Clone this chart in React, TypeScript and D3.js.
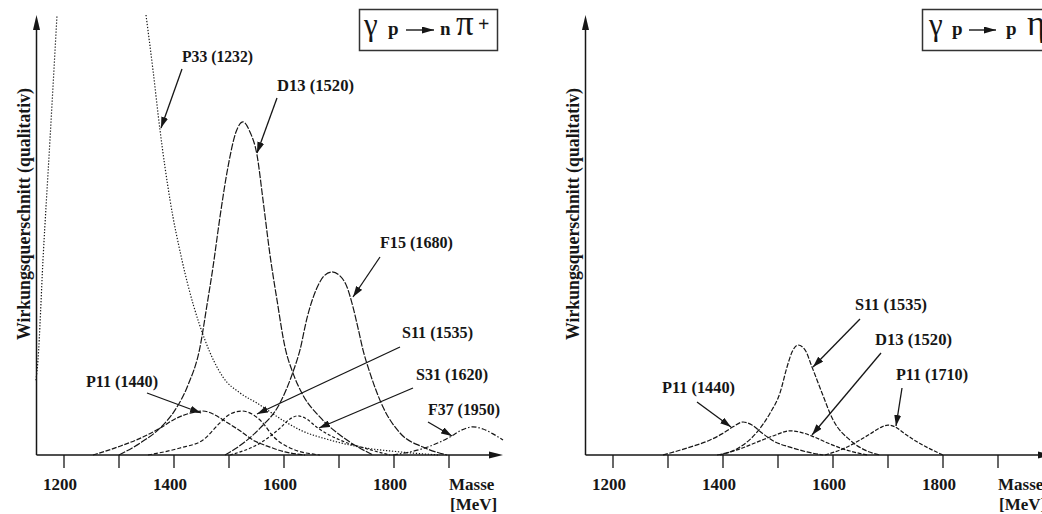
import React from 'react';
import * as d3 from 'd3';

type Pt = [number, number];

// ---------- axis data ----------
const massTicks = [1200, 1300, 1400, 1500, 1600, 1700, 1800, 1900];
const massTickLabels = ['1200', '', '1400', '', '1600', '', '1800', ''];
const massTitle = 'Masse';
const unitLabel = '[MeV]';
const yAxisLabel = 'Wirkungsquerschnitt (qualitativ)';

// ---------- left panel: γ p → n π+  [mass (MeV), relative cross section] ----------
const p33LowBranch: Pt[] = [[1149, 17.0], [1152.7, 21.6], [1161.8, 44.3], [1174.5, 71.6], [1187.3, 100]];
const p33HighBranch: Pt[] = [[1349.1, 100], [1361.8, 87.5], [1374.5, 73.9], [1392.7, 58.0], [1414.5, 44.3], [1456.4, 26.1], [1489.1, 17.7], [1520, 14.1], [1550.9, 11.8], [1605.5, 7.3], [1629.1, 5.7], [1683.6, 3.4], [1738.2, 1.8], [1810.9, 0.7], [1883.6, 0]];
const d13Pi: Pt[] = [[1300, 0], [1338.2, 2.7], [1374.5, 6.1], [1401.8, 10.2], [1425.5, 15.9], [1447.3, 24.5], [1460, 34.1], [1470.9, 42.7], [1483.6, 54.1], [1498.2, 65.5], [1512.7, 73.4], [1525.5, 75.7], [1538.2, 73.4], [1550.9, 68.2], [1561.8, 58.0], [1574.5, 45.5], [1587.3, 35.2], [1601.8, 24.5], [1616.4, 18.6], [1634.5, 13.6], [1665.5, 8.6], [1714.5, 3.4], [1761.8, 0]];
const f15Pi: Pt[] = [[1492.7, 0], [1529.1, 3.0], [1556.4, 6.1], [1592.7, 11.8], [1616.4, 18.9], [1629.1, 23.9], [1641.8, 31.1], [1660, 38.0], [1672.7, 40.7], [1687.3, 41.6], [1701.8, 40.7], [1714.5, 38.2], [1725.5, 33.6], [1734.5, 28.9], [1743.6, 23.9], [1756.4, 18.6], [1780, 10.9], [1810.9, 5.0], [1852.7, 1.8], [1896.4, 0]];
const p11Pi: Pt[] = [[1252.7, 0], [1301.8, 2.0], [1347.3, 4.3], [1374.5, 6.1], [1401.8, 8.2], [1429.1, 9.5], [1452.7, 10.0], [1474.5, 9.1], [1492.7, 7.7], [1520, 5.5], [1543.6, 3.4], [1574.5, 1.8], [1601.8, 0.7], [1638.2, 0]];
const s11Pi: Pt[] = [[1352.7, 0], [1410.9, 1.6], [1452.7, 3.4], [1483.6, 7.3], [1501.8, 9.3], [1523.6, 10.0], [1541.8, 9.3], [1560, 7.5], [1580, 4.3], [1610.9, 1.6], [1665.5, 0]];
const s31Pi: Pt[] = [[1501.8, 0], [1556.4, 2.7], [1592.7, 6.1], [1610.9, 8.2], [1625.5, 8.9], [1638.2, 8.4], [1661.8, 6.1], [1701.8, 3.4], [1750.9, 1.4], [1792.7, 0]];
const f37Pi: Pt[] = [[1798.2, 0], [1829.1, 0.7], [1865.5, 2.0], [1901.8, 4.1], [1923.6, 5.7], [1943.6, 6.4], [1961.8, 5.9], [1980, 4.8], [1998.2, 3.4]];

// ---------- right panel: γ p → p η ----------
const s11Eta: Pt[] = [[1389.1, 0], [1430.9, 1.8], [1461.8, 5.2], [1485.5, 9.5], [1503.6, 14.1], [1516.4, 20.0], [1525.5, 23.4], [1536.4, 25.0], [1549.1, 23.9], [1561.8, 20.0], [1580, 14.1], [1600, 8.0], [1630.9, 3.4], [1658.2, 1.1], [1685.5, 0]];
const d13Eta: Pt[] = [[1394.5, 0], [1430.9, 1.4], [1467.3, 3.2], [1494.5, 4.5], [1521.8, 5.5], [1540, 5.2], [1561.8, 4.3], [1594.5, 2.5], [1630.9, 0.9], [1663.6, 0]];
const p11aEta: Pt[] = [[1290.9, 0], [1340, 1.8], [1376.4, 3.4], [1398.2, 4.8], [1418.2, 6.4], [1436.4, 7.5], [1452.7, 6.8], [1470.9, 5.0], [1494.5, 3.0], [1521.8, 1.8], [1552.7, 0.7], [1581.8, 0]];
const p11bEta: Pt[] = [[1585.5, 0], [1621.8, 1.6], [1649.1, 3.4], [1672.7, 5.2], [1689.1, 6.4], [1700, 6.8], [1712.7, 6.4], [1730.9, 4.8], [1752.7, 3.0], [1776.4, 1.4], [1800, 0]];

// resonance labels
const leftLabels = ['P33 (1232)', 'D13 (1520)', 'F15 (1680)', 'S11 (1535)', 'S31 (1620)', 'F37 (1950)', 'P11 (1440)'];
const rightLabels = ['P11 (1440)', 'S11 (1535)', 'D13 (1520)', 'P11 (1710)'];

// ---------- layout (pixels) ----------
const W = 1042;
const H = 514;
const INK = '#161616';
const FONT = "'Liberation Serif', 'Times New Roman', serif";

const yScale = d3.scaleLinear().domain([0, 100]).range([455, 15]);

type LabelLayout = { t: [number, number]; w: number; a: [number, number, number, number] };

const leftLabelLayout: LabelLayout[] = [
  { t: [182, 62], w: 71, a: [182, 69, 161, 128] },
  { t: [277, 91], w: 77, a: [277, 98, 257, 153] },
  { t: [380, 248], w: 73, a: [380, 257, 353, 297] },
  { t: [402, 338], w: 71, a: [400, 347, 257, 414] },
  { t: [416, 380], w: 72, a: [413, 388, 319, 428] },
  { t: [428, 415], w: 72, a: [428, 422, 452, 436] },
  { t: [86, 387], w: 72, a: [147, 393, 201, 413] },
];
const rightLabelLayout: LabelLayout[] = [
  { t: [662, 393], w: 73, a: [697, 402, 731, 427] },
  { t: [855, 310], w: 72, a: [860, 319, 813, 367] },
  { t: [875, 345], w: 77, a: [881, 353, 812, 435] },
  { t: [896, 380], w: 72, a: [902, 388, 896, 426] },
];

type Series = { data: Pt[]; dash: string };

function Panel(props: {
  ox: number;
  series: Series[];
  labels: string[];
  layout: LabelLayout[];
  xEnd: number;
}) {
  const { ox, series, labels, layout, xEnd } = props;
  const x = d3.scaleLinear().domain([1200, 1900]).range([64 + ox, 449 + ox]);
  const line = d3
    .line<Pt>()
    .x((d) => x(d[0]))
    .y((d) => yScale(d[1]))
    .curve(d3.curveMonotoneX);
  const axisX = 36.5 + ox;
  const y0 = yScale(0);
  const yTop = yScale(100);
  return (
    <g>
      {series.map((s, i) => (
        <path key={i} d={line(s.data) || ''} fill="none" stroke={INK} strokeWidth={1.2} strokeDasharray={s.dash} />
      ))}
      {/* y axis */}
      <line x1={axisX} y1={y0} x2={axisX} y2={yTop + 13} stroke={INK} strokeWidth={1.5} />
      <path d={`M${axisX},${yTop} L${axisX - 3.5},${yTop + 15} L${axisX + 3.5},${yTop + 15} Z`} fill={INK} />
      {/* x axis */}
      <line x1={axisX} y1={y0} x2={xEnd - 12} y2={y0} stroke={INK} strokeWidth={1.5} />
      <path d={`M${xEnd},${y0} L${xEnd - 14},${y0 - 3.5} L${xEnd - 14},${y0 + 3.5} Z`} fill={INK} />
      {massTicks.map((m, i) => (
        <g key={m}>
          <line x1={x(m)} y1={y0} x2={x(m)} y2={y0 + 13} stroke={INK} strokeWidth={1.3} />
          {massTickLabels[i] && (
            <text x={x(m) - 4} y={490} textAnchor="middle" fontFamily={FONT} fontWeight="bold" fontSize={17} fill={INK}>
              {massTickLabels[i]}
            </text>
          )}
        </g>
      ))}
      <text x={x(1900)} y={490} fontFamily={FONT} fontWeight="bold" fontSize={17} fill={INK}>
        {massTitle}
      </text>
      <text x={x(1900) + 1} y={510} fontFamily={FONT} fontWeight="bold" fontSize={17} fill={INK}>
        {unitLabel}
      </text>
      <text
        transform={`translate(${30 + ox},214) rotate(-90)`}
        textAnchor="middle"
        fontFamily={FONT}
        fontWeight="bold"
        fontSize={18}
        textLength={252}
        lengthAdjust="spacingAndGlyphs"
        fill={INK}
      >
        {yAxisLabel}
      </text>
      {labels.map((lab, i) => {
        const L = layout[i];
        return (
          <g key={i}>
            <text
              x={L.t[0]}
              y={L.t[1]}
              fontFamily={FONT}
              fontWeight="bold"
              fontSize={17}
              textLength={L.w}
              lengthAdjust="spacingAndGlyphs"
              fill={INK}
            >
              {lab}
            </text>
            <line x1={L.a[0]} y1={L.a[1]} x2={L.a[2]} y2={L.a[3]} stroke={INK} strokeWidth={1.3} markerEnd="url(#ah)" />
          </g>
        );
      })}
    </g>
  );
}

function Title(props: {
  x: number;
  w: number;
  second: string;
  third: string;
  sup: string;
  pos: { g: number; p: number; a1: number; a2: number; s: number; t: number; sp: number };
}) {
  const { x, w, second, third, sup, pos } = props;
  return (
    <g>
      <rect x={x + 0.5} y={9.5} width={w} height={41} fill="white" stroke="#333" strokeWidth={1.5} />
      <text x={pos.g} y={35} fontFamily={FONT} fontSize={31} fill={INK}>γ</text>
      <text x={pos.p} y={35} fontFamily={FONT} fontWeight="bold" fontSize={19} fill={INK}>p</text>
      <line x1={pos.a1} y1={30} x2={pos.a2} y2={30} stroke={INK} strokeWidth={1.4} markerEnd="url(#ah2)" />
      <text x={pos.s} y={35} fontFamily={FONT} fontWeight="bold" fontSize={19} fill={INK}>{second}</text>
      <text x={pos.t} y={35} fontFamily={FONT} fontSize={35} fill={INK}>{third}</text>
      {sup && (
        <text x={pos.sp} y={31} fontFamily={FONT} fontWeight="bold" fontSize={20} fill={INK}>{sup}</text>
      )}
    </g>
  );
}

export default function App() {
  const leftSeries: Series[] = [
    { data: p33LowBranch, dash: '1.3,1.7' },
    { data: p33HighBranch, dash: '1.3,1.7' },
    { data: d13Pi, dash: '7,1.5' },
    { data: f15Pi, dash: '7,1.5' },
    { data: p11Pi, dash: '5,1.6' },
    { data: s11Pi, dash: '4,2' },
    { data: s31Pi, dash: '3,2' },
    { data: f37Pi, dash: '5,2,1.5,2' },
  ];
  const rightSeries: Series[] = [
    { data: s11Eta, dash: '5,1.6' },
    { data: d13Eta, dash: '4,1.6' },
    { data: p11aEta, dash: '5,1.6' },
    { data: p11bEta, dash: '4,1.6' },
  ];
  return (
    <svg
      width={W}
      height={H}
      viewBox={`0 0 ${W} ${H}`}
      style={{ position: 'absolute', left: 0, top: 0, display: 'block', background: 'white' }}
    >
      <defs>
        <marker id="ah" viewBox="0 0 10 10" refX="10" refY="5" markerWidth="11" markerHeight="7" markerUnits="userSpaceOnUse" orient="auto" preserveAspectRatio="none">
          <path d="M0,0 L10,5 L0,10 Z" fill={INK} />
        </marker>
        <marker id="ah2" viewBox="0 0 10 10" refX="10" refY="5" markerWidth="12" markerHeight="7" markerUnits="userSpaceOnUse" orient="auto" preserveAspectRatio="none">
          <path d="M0,0 L10,5 L0,10 Z" fill={INK} />
        </marker>
      </defs>
      <rect x={0} y={0} width={W} height={H} fill="white" />
      <Panel ox={0} series={leftSeries} labels={leftLabels} layout={leftLabelLayout} xEnd={503} />
      <Panel ox={549} series={rightSeries} labels={rightLabels} layout={rightLabelLayout} xEnd={1052} />
      <Title
        x={359}
        w={138}
        second="n"
        third="π"
        sup="+"
        pos={{ g: 364, p: 388, a1: 406, a2: 434, s: 440, t: 456, sp: 478 }}
      />
      <Title
        x={922}
        w={140}
        second="p"
        third="η"
        sup=""
        pos={{ g: 929, p: 952, a1: 969, a2: 996, s: 1006, t: 1027, sp: 0 }}
      />
    </svg>
  );
}
